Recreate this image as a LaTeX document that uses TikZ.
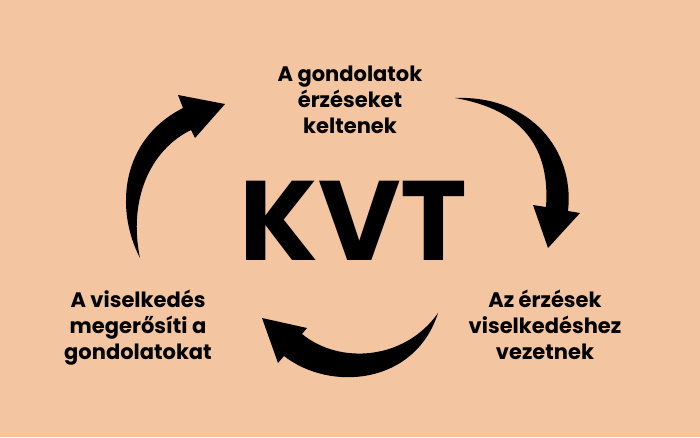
\documentclass[tikz,border=0pt]{standalone}
\usepackage{fontspec}
\setmainfont{Poppins}
\definecolor{peach}{RGB}{243,198,161}
\begin{document}
\begin{tikzpicture}[x=1pt,y=-1pt,
  lbl/.style={align=center,inner sep=0pt,font=\bfseries\fontsize{21}{26}\selectfont},
  arr/.style={fill=black,draw=none}]
\fill[peach] (0,0) rectangle (700,437);
\useasboundingbox (0,0) rectangle (700,437);
\node[inner sep=0pt,anchor=base,font=\bfseries\fontsize{113}{113}\selectfont] (kvt) at (353.5,260) {KVT};
\node[lbl,anchor=base] (top) at (350,133) {A gondolatok\\érzéseket\\keltenek};
\node[lbl,anchor=base] (right) at (545,359) {Az érzések\\viselkedéshez\\vezetnek};
\node[lbl,anchor=base] (left) at (138,359) {A viselkedés\\megerősíti a\\gondolatokat};
% left arrow
\fill[arr] (140,258) .. controls (115,210) and (120,140) .. (183,108)
  -- (178,95) -- (225,104) -- (195,138) -- (191,130)
  .. controls (150,150) and (128,200) .. (140,258) -- cycle;
% top-right arrow
\fill[arr] (455,98) .. controls (530,95) and (575,150) .. (568,211)
  -- (580,213) -- (548,248) -- (533,205) -- (546,207)
  .. controls (550,150) and (525,110) .. (455,98) -- cycle;
% bottom arrow
\fill[arr] (438,313) .. controls (415,385) and (330,392) .. (284,356)
  -- (278,363) -- (262,318) -- (307,328) -- (302,334)
  .. controls (340,365) and (405,360) .. (438,313) -- cycle;
\end{tikzpicture}
\end{document}
